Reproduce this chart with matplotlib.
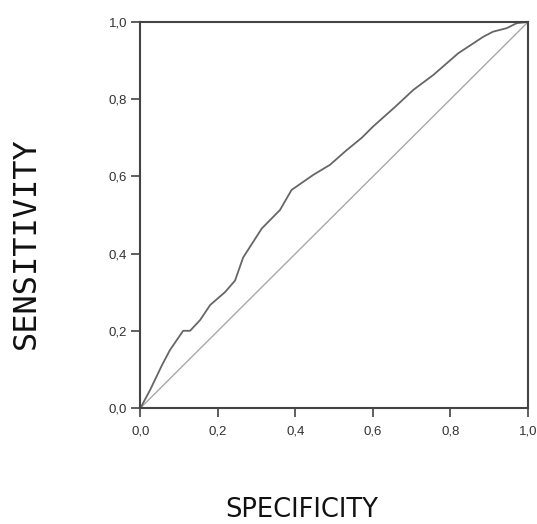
import matplotlib
matplotlib.use("Agg")
import matplotlib.pyplot as plt
import numpy as np

# ROC curve: 1 - specificity vs sensitivity
fpr = [0.0, 0.025, 0.055, 0.076, 0.11, 0.128, 0.154, 0.18, 0.218, 0.244,
       0.265, 0.313, 0.36, 0.39, 0.446, 0.489, 0.532, 0.571, 0.60, 0.657,
       0.704, 0.756, 0.82, 0.885, 0.91, 0.945, 0.971, 1.0]
tpr = [0.0, 0.047, 0.11, 0.15, 0.20, 0.20, 0.228, 0.267, 0.30, 0.33,
       0.39, 0.465, 0.513, 0.565, 0.604, 0.63, 0.668, 0.70, 0.729, 0.78,
       0.824, 0.863, 0.919, 0.962, 0.975, 0.984, 0.997, 1.0]
ref_line = [0.0, 1.0]
ticks = [0.0, 0.2, 0.4, 0.6, 0.8, 1.0]
tick_labels = ["0,0", "0,2", "0,4", "0,6", "0,8", "1,0"]

fig = plt.figure(figsize=(5.37, 5.24), dpi=100)
ax = fig.add_axes([0.2616, 0.2214, 0.7216, 0.7366])

ax.plot(ref_line, ref_line, color="#a8a8a8", lw=1.0)
ax.plot(fpr, tpr, color="#666666", lw=1.3)

ax.set_xlim(0, 1)
ax.set_ylim(0, 1)
ax.set_xticks(ticks)
ax.set_yticks(ticks)
ax.set_xticklabels(tick_labels, family="Liberation Sans", fontsize=9.5, color="#333333")
ax.set_yticklabels(tick_labels, family="Liberation Sans", fontsize=9.5, color="#333333")
ax.tick_params(direction="out", length=6.5, width=1.2, color="#444444", pad=3)
ax.tick_params(axis="x", pad=6)
for s in ax.spines.values():
    s.set_color("#444444")
    s.set_linewidth(1.5)

fig.text(26 / 537, 1 - 243 / 524, "SENSITIVITY", rotation=90, ha="center", va="center",
         family="DejaVu Sans Mono", fontsize=23, color="#111111")
fig.text(302 / 537, 1 - 510 / 524, "SPECIFICITY", ha="center", va="center",
         family="DejaVu Sans", fontsize=18.5, color="#111111")

fig.savefig("out.png", dpi=100)
